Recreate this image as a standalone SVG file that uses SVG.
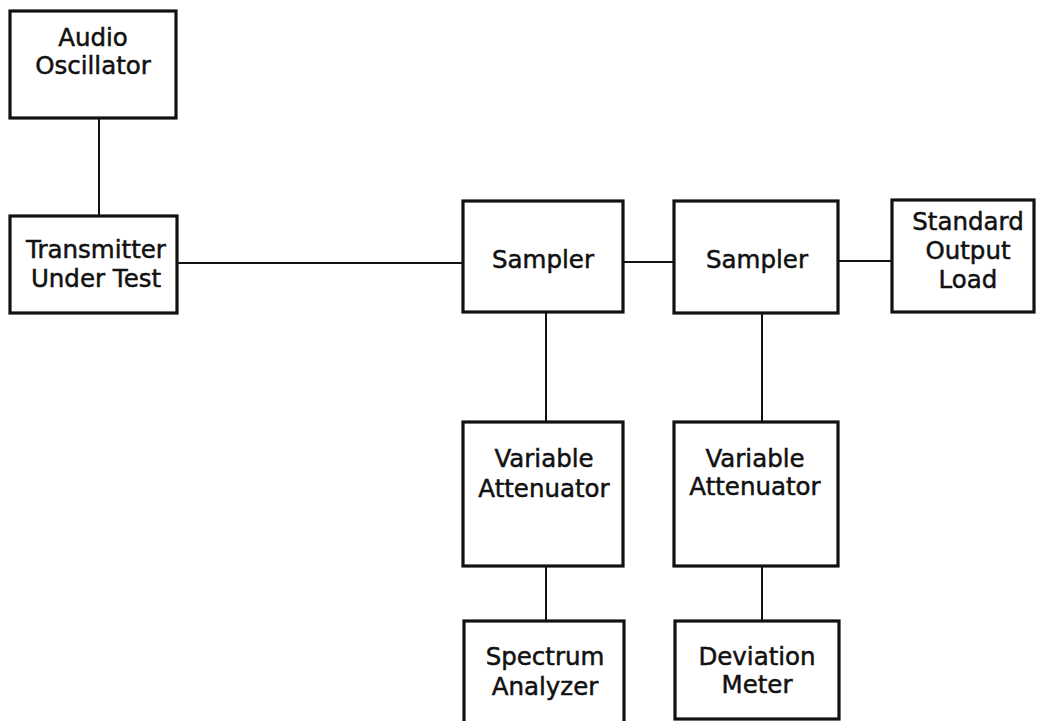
<svg xmlns="http://www.w3.org/2000/svg" width="1038" height="721" viewBox="0 0 1038 721">
<style>
.box{fill:#fff;stroke:#111;stroke-width:3.2}
.ln{stroke:#111;stroke-width:2;fill:none}
text{font-family:"DejaVu Sans",sans-serif;font-size:24.5px;fill:#111;stroke:#111;stroke-width:0.5;text-anchor:middle}
</style>
<rect width="1038" height="721" fill="#fff"/>
<g id="connectors">
<line class="ln" x1="99" y1="118" x2="99" y2="216"/>
<line class="ln" x1="177" y1="263" x2="463" y2="263"/>
<line class="ln" x1="623" y1="262" x2="674" y2="262"/>
<line class="ln" x1="838" y1="261" x2="892" y2="261"/>
<line class="ln" x1="546" y1="312" x2="546" y2="422"/>
<line class="ln" x1="762" y1="313" x2="762" y2="422"/>
<line class="ln" x1="546" y1="566" x2="546" y2="621"/>
<line class="ln" x1="762" y1="566" x2="762" y2="621"/>
</g>
<g id="audio-oscillator">
<rect class="box" x="10" y="11" width="166" height="107"/>
<text x="93" y="46">Audio</text>
<text x="93" y="74">Oscillator</text>
</g>
<g id="transmitter">
<rect class="box" x="10" y="216" width="167" height="97"/>
<text x="96" y="258">Transmitter</text>
<text x="96" y="287">Under Test</text>
</g>
<g id="sampler1">
<rect class="box" x="463" y="201" width="160" height="111"/>
<text x="543" y="268">Sampler</text>
</g>
<g id="sampler2">
<rect class="box" x="674" y="201" width="164" height="112"/>
<text x="757" y="268">Sampler</text>
</g>
<g id="standard-output-load">
<rect class="box" x="892" y="200" width="142" height="112"/>
<text x="968" y="230">Standard</text>
<text x="968" y="259">Output</text>
<text x="968" y="288">Load</text>
</g>
<g id="variable-attenuator1">
<rect class="box" x="463" y="422" width="160" height="144"/>
<text x="544" y="467">Variable</text>
<text x="544" y="497">Attenuator</text>
</g>
<g id="variable-attenuator2">
<rect class="box" x="674" y="422" width="164" height="144"/>
<text x="755" y="467">Variable</text>
<text x="755" y="495">Attenuator</text>
</g>
<g id="spectrum-analyzer">
<rect class="box" x="464" y="621" width="160" height="104"/>
<text x="545" y="665">Spectrum</text>
<text x="545" y="695">Analyzer</text>
</g>
<g id="deviation-meter">
<rect class="box" x="675" y="621" width="164" height="98"/>
<text x="757" y="665">Deviation</text>
<text x="757" y="693">Meter</text>
</g>
</svg>
